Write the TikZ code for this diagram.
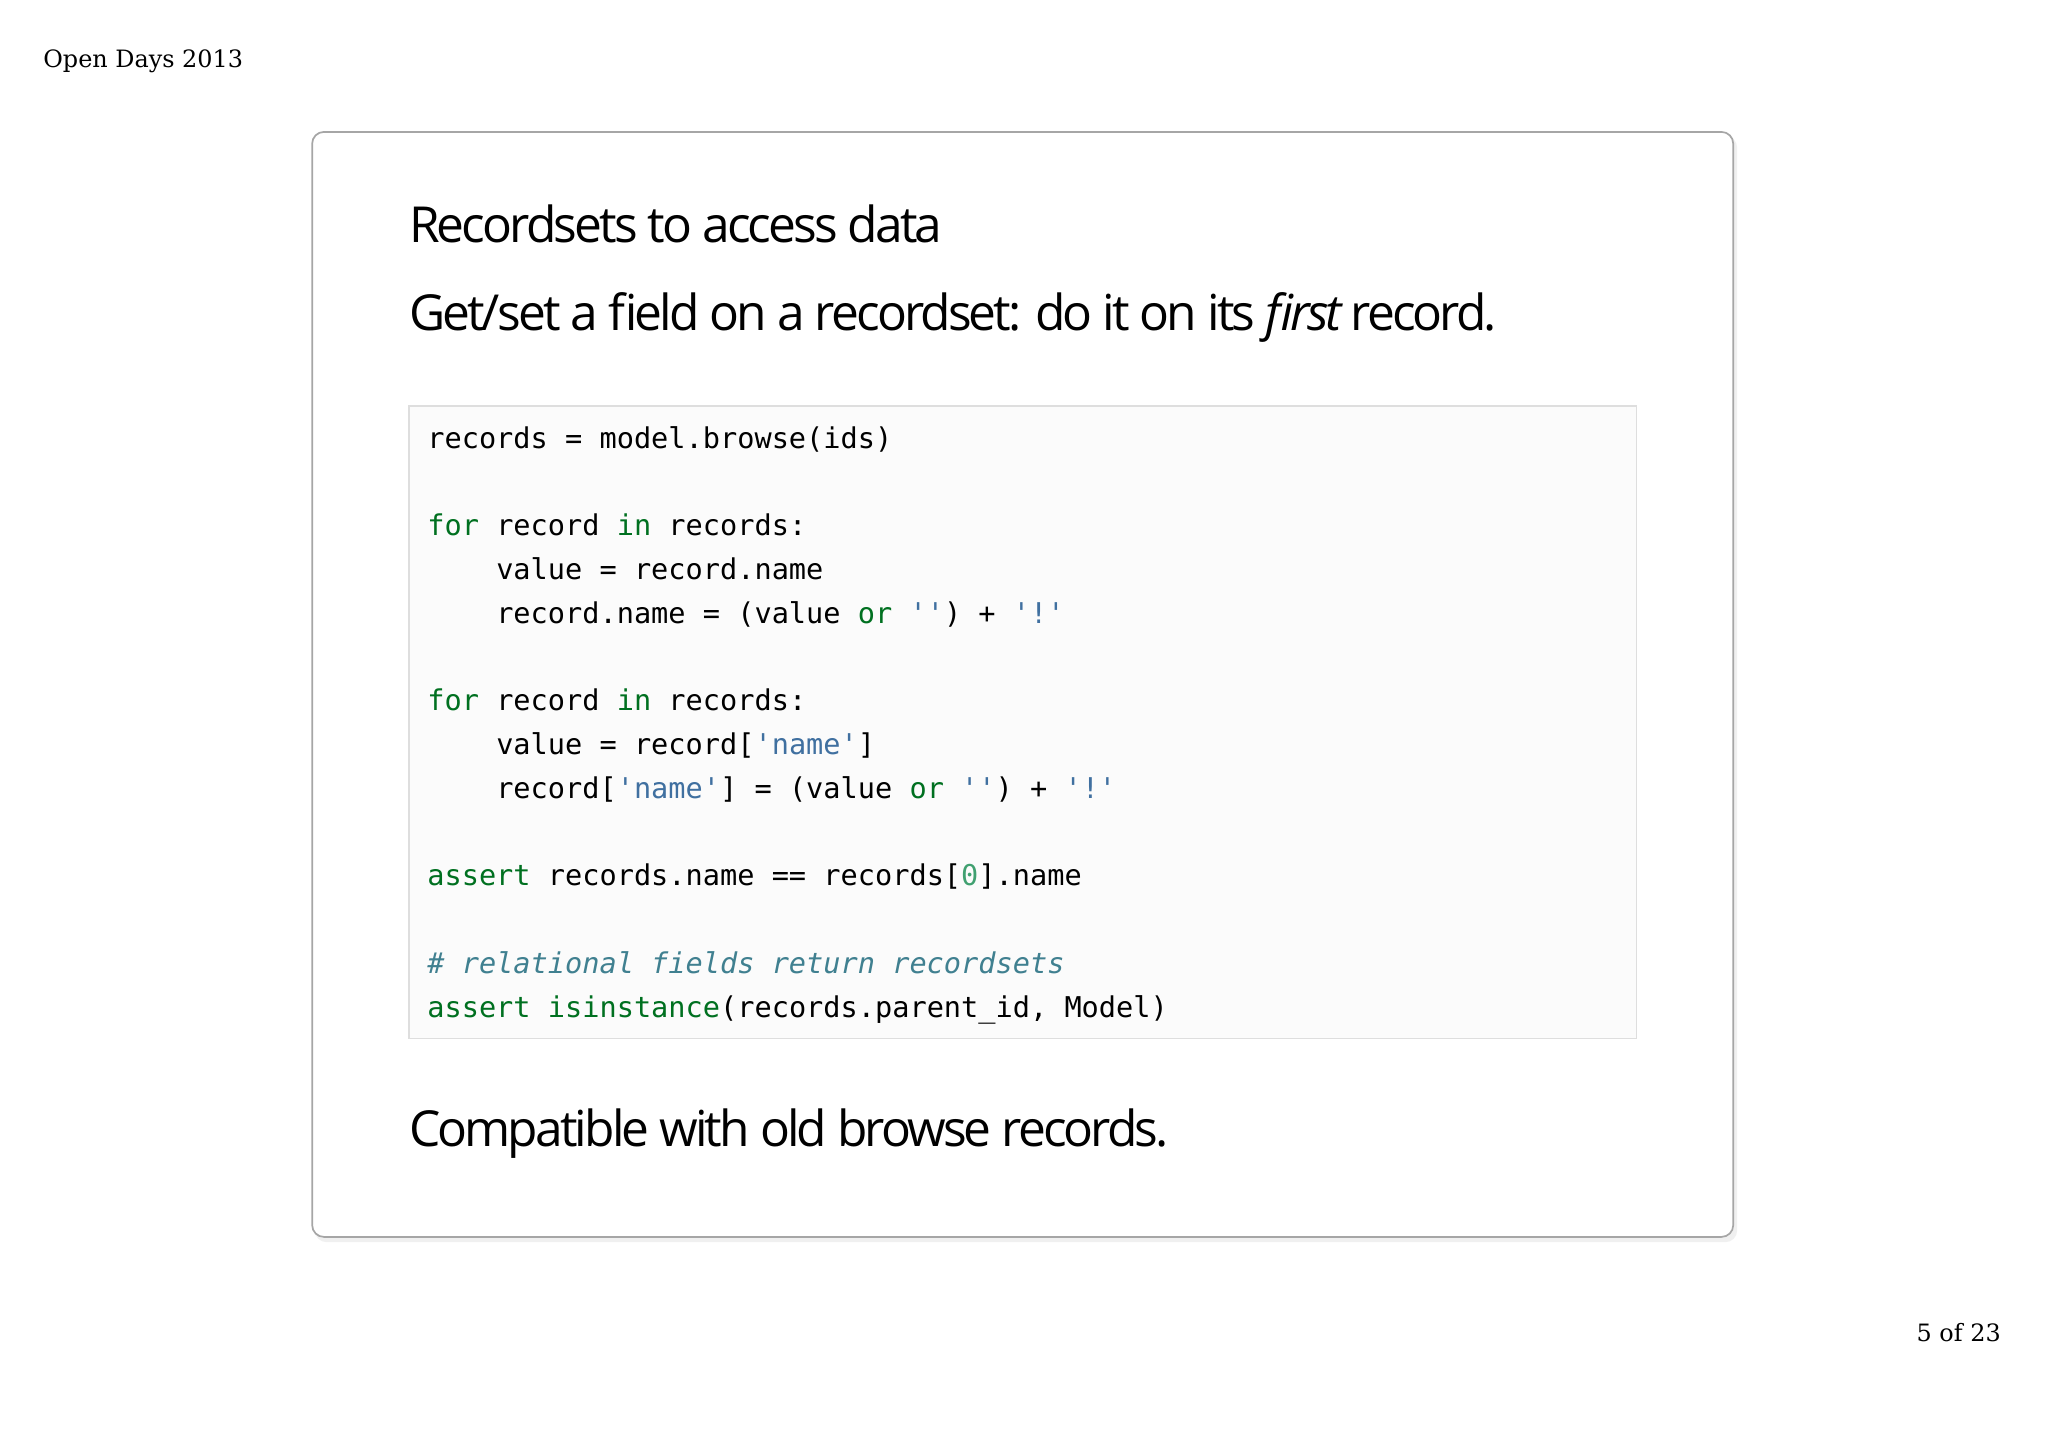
\documentclass[tikz,border=0pt]{standalone}
\usepackage{fontspec}
\setmainfont{DejaVu Serif}
\newfontfamily\osans{Open Sans}[LetterSpace=-5.8]
\newfontfamily\mono{DejaVu Sans Mono}
\definecolor{kw}{HTML}{007020}
\definecolor{st}{HTML}{4070A0}
\definecolor{cm}{HTML}{408090}
\definecolor{nu}{HTML}{40A070}
\tikzset{x=1pt,y=-1pt,
 codeline/.style={anchor=base west,inner sep=0,font=\mono\fontsize{21.9}{26}\selectfont},
 big/.style={anchor=base west,inner sep=0,font=\osans\fontsize{38}{44}\selectfont}}
\newcommand{\K}[1]{\textcolor{kw}{#1}}
\newcommand{\Sx}[1]{\textcolor{st}{#1}}
\begin{document}
\begin{tikzpicture}
\useasboundingbox[fill=white] (0,0) rectangle (1568,1109);
\node[anchor=base west,inner sep=0,font=\fontsize{18.3}{21}\selectfont] (hdr) at (33,52) {Open Days 2013};
\node[anchor=base east,inner sep=0,font=\fontsize{18.3}{21}\selectfont] (pg) at (1532,1027) {5 of 23};
\fill[black!6,rounded corners=9] (241,104) rectangle (1330,951);
\draw[fill=white,draw=black!35,line width=1.3,rounded corners=9] (239,101) rectangle (1327,947);
\node[big] (t1) at (313,186) {Recordsets to access data};
\node[big] (t2) at (313,253) {Get/set a field on a recordset: do it on its \textit{first} record.};
\draw[fill=black!1.5,draw=black!13,line width=1.3] (313,311) rectangle (1253,795);
\node[codeline] (c1) at (327,343) {records = model.browse(ids)};
\node[codeline] (c2) at (327,410) {\K{for} record \K{in} records:};
\node[codeline] (c3) at (327,444) {\ \ \ \ value = record.name};
\node[codeline] (c4) at (327,477) {\ \ \ \ record.name = (value \K{or} \Sx{''}) + \Sx{'!'}};
\node[codeline] (c5) at (327,544) {\K{for} record \K{in} records:};
\node[codeline] (c6) at (327,578) {\ \ \ \ value = record[\Sx{'name'}]};
\node[codeline] (c7) at (327,611) {\ \ \ \ record[\Sx{'name'}] = (value \K{or} \Sx{''}) + \Sx{'!'}};
\node[codeline] (c8) at (327,678) {\K{assert} records.name == records[\textcolor{nu}{0}].name};
\node[codeline] (c9) at (327,745) {\textcolor{cm}{\itshape\# relational fields return recordsets}};
\node[codeline] (c10) at (327,779) {\K{assert} \K{isinstance}(records.parent\_id, Model)};
\node[big] (t3) at (313,878) {Compatible with old browse records.};
\end{tikzpicture}
\end{document}
